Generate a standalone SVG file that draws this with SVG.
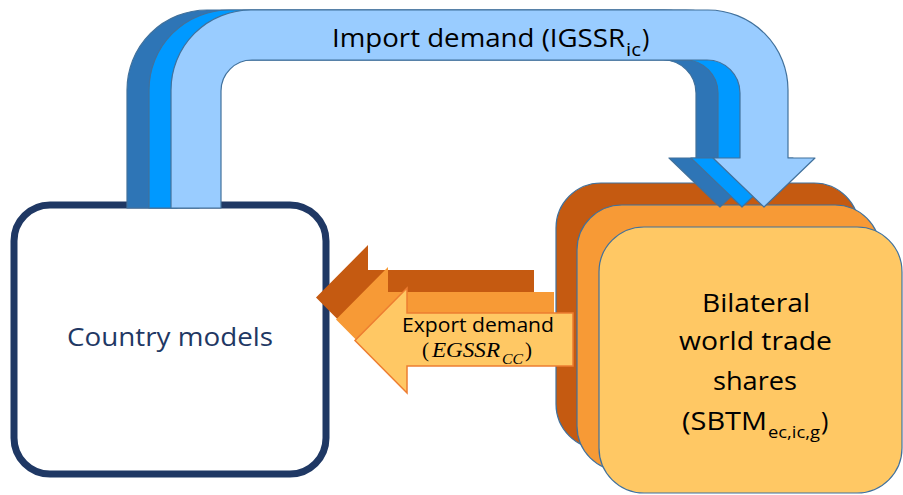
<svg xmlns="http://www.w3.org/2000/svg" width="903" height="495" viewBox="0 0 903 495">
<defs>
<style>
.lbl{font-family:"Open Sans","Liberation Sans",sans-serif;fill:#000}
.math{font-family:"Liberation Serif",serif;font-style:italic;fill:#000}
.box{stroke:#41719C;stroke-width:1.2}
.blue{stroke:#41719C;stroke-width:1.2;stroke-linejoin:round}
</style>
<path id="bentArrow" d="M171,208 L171,90 A80,80 0 0 1 251,10 L708,10 A80,80 0 0 1 788,90 L788,158 L815,158 L764,207 L713,158 L740,158 L740,93 A33,33 0 0 0 707,60 L252,60 A31,31 0 0 0 221,91 L221,208 Z"/>
<path id="leftArrow" d="M573,313 L407,313 L407,288 L355,340.5 L407,393 L407,366 L573,366 Z"/>
</defs>
<rect width="903" height="495" fill="#fff"/>

<g id="country-models">
<rect x="14" y="205" width="312" height="269" rx="36" ry="36" fill="#fff" stroke="#1F3864" stroke-width="7"/>
<text class="lbl" x="170" y="346" font-size="25" text-anchor="middle" textLength="206" lengthAdjust="spacingAndGlyphs" style="fill:#1F3864">Country models</text>
</g>

<g id="bilateral-trade-shares">
<rect class="box" x="556" y="183" width="303" height="266" rx="45" ry="45" fill="#C55A11"/>
<rect class="box" x="577" y="205" width="303" height="266" rx="45" ry="45" fill="#F79A36"/>
<rect class="box" x="599" y="227" width="303" height="266" rx="45" ry="45" fill="#FFC864"/>
<text class="lbl" font-size="25">
<tspan x="702" y="312" textLength="108" lengthAdjust="spacingAndGlyphs">Bilateral</tspan>
<tspan x="679" y="350" textLength="153" lengthAdjust="spacingAndGlyphs">world trade</tspan>
<tspan x="713" y="390" textLength="84" lengthAdjust="spacingAndGlyphs">shares</tspan>
</text>
<text class="lbl" font-size="25"><tspan x="682" y="430" textLength="85" lengthAdjust="spacingAndGlyphs">(SBTM</tspan><tspan x="768" y="438" font-size="17" textLength="52" lengthAdjust="spacingAndGlyphs">ec,ic,g</tspan><tspan x="821" y="430">)</tspan></text>
</g>

<g id="connectors">
<g id="import-demand">
<use href="#bentArrow" transform="translate(-44,0)" fill="#2E75B6" class="blue"/>
<use href="#bentArrow" transform="translate(-22,0)" fill="#0099FF" class="blue"/>
<use href="#bentArrow" fill="#99CCFF" class="blue"/>
<text class="lbl" font-size="25"><tspan x="332" y="47" textLength="293" lengthAdjust="spacingAndGlyphs">Import demand (IGSSR</tspan><tspan x="626" y="56" font-size="18" textLength="15" lengthAdjust="spacingAndGlyphs">ic</tspan><tspan x="642" y="47">)</tspan></text>
</g>
<g id="export-demand">
<use href="#leftArrow" transform="translate(-39,-43)" fill="#C55A11"/>
<use href="#leftArrow" transform="translate(-19,-21)" fill="#F79A36"/>
<use href="#leftArrow" fill="#FFC864" stroke="#ED7D31" stroke-width="1.5"/>
<text class="lbl" x="402" y="332" font-size="20" textLength="152" lengthAdjust="spacingAndGlyphs">Export demand</text>
<text font-size="21"><tspan class="lbl" x="422" y="357" style="font-family:'Liberation Serif',serif">(</tspan><tspan class="math" x="432" y="357" textLength="68" lengthAdjust="spacingAndGlyphs">EGSSR</tspan><tspan class="math" x="502" y="364" font-size="15" textLength="21" lengthAdjust="spacingAndGlyphs">CC</tspan><tspan class="lbl" x="525" y="357" style="font-family:'Liberation Serif',serif">)</tspan></text>
</g>
</g>
</svg>
